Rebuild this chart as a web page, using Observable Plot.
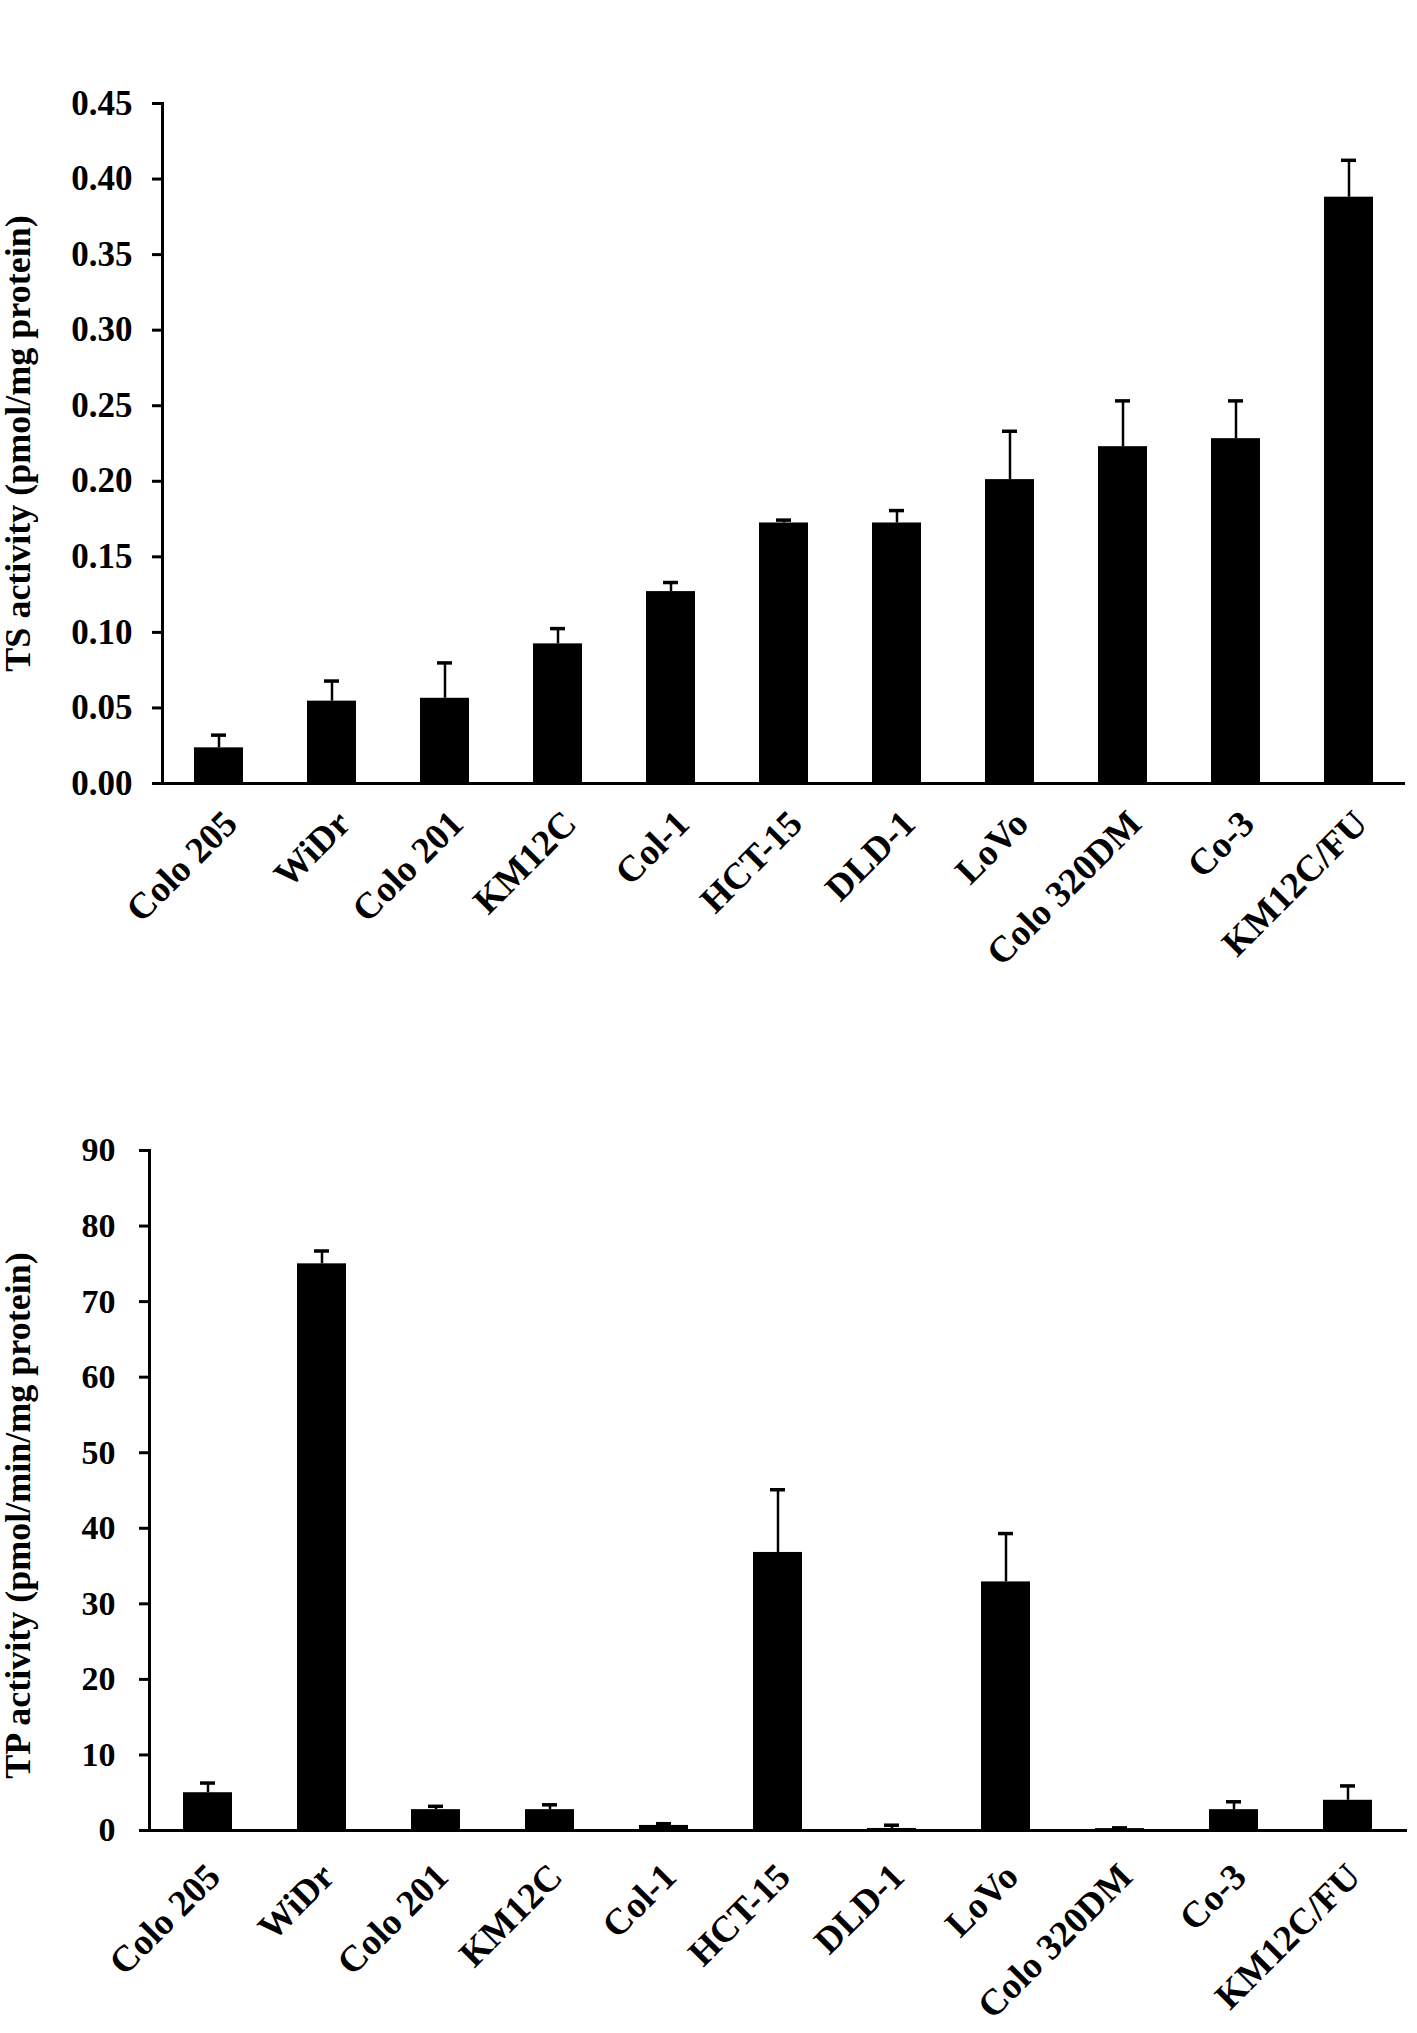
<!DOCTYPE html>
<html>
<head>
<meta charset="utf-8">
<script src="https://cdn.jsdelivr.net/npm/d3@7"></script>
<script src="https://cdn.jsdelivr.net/npm/@observablehq/plot@0.6"></script>
<style>
  html, body { margin: 0; padding: 0; background: #fff; }
  #root > svg { display: block; }
</style>
</head>
<body>
<div id="root"></div>
<script>
// Cell lines (x categories)
const cellLines = ["Colo 205", "WiDr", "Colo 201", "KM12C", "Col-1", "HCT-15", "DLD-1", "LoVo", "Colo 320DM", "Co-3", "KM12C/FU"];

// TS activity (pmol/mg protein): mean and upper error
const tsMean = [0.0236, 0.0545, 0.0564, 0.0924, 0.127, 0.1724, 0.1724, 0.2011, 0.2229, 0.2282, 0.388];
const tsErr  = [0.0084, 0.0133, 0.0234, 0.0101, 0.006, 0.0019, 0.0082, 0.032, 0.0303, 0.025, 0.0244];
const tsTicks = [0, 0.05, 0.10, 0.15, 0.20, 0.25, 0.30, 0.35, 0.40, 0.45];

// TP activity (pmol/min/mg protein): mean and upper error
const tpMean = [5.0, 75.0, 2.76, 2.76, 0.67, 36.8, 0.27, 32.9, 0.25, 2.76, 4.0];
const tpErr  = [1.28, 1.7, 0.44, 0.64, 0.23, 8.3, 0.43, 6.4, 0.1, 1.04, 1.9];
const tpTicks = [0, 10, 20, 30, 40, 50, 60, 70, 80, 90];

const FONT = "'Liberation Serif', 'Times New Roman', serif";

function panel({mean, err, ticks, yMax, fmt, label, height, mTop, mBottom, mLeft, mRight, tickPad, tickFont, labelOffset, labelDx, xPad, xDx}) {
  const data = cellLines.map((c, i) => ({cell: c, v: mean[i], hi: mean[i] + err[i]}));
  return Plot.plot({
    width: 1417,
    height,
    marginTop: mTop,
    marginBottom: mBottom,
    marginLeft: mLeft,
    marginRight: mRight,
    style: {fontFamily: FONT, fontWeight: "bold", color: "#000", background: "#fff", overflow: "visible"},
    x: {domain: cellLines, paddingInner: 0.57, paddingOuter: 0.28, axis: null},
    y: {domain: [0, yMax], axis: null},
    marks: [
      Plot.barY(data, {x: "cell", y: "v", fill: "#000"}),
      Plot.ruleX(data, {x: "cell", y1: "v", y2: "hi", stroke: "#000", strokeWidth: 2.5}),
      Plot.tickY(data, {x: "cell", y: "hi", stroke: "#000", strokeWidth: 3.5, insetLeft: 17, insetRight: 17}),
      Plot.frame({anchor: "left", stroke: "#000", strokeWidth: 3}),
      Plot.ruleY([0], {stroke: "#000", strokeWidth: 3}),
      Plot.axisY({ticks, tickFormat: fmt, tickSize: 10, tickPadding: tickPad, fontSize: tickFont, strokeWidth: 3, label: null}),
      Plot.axisY({ticks: [], label, labelAnchor: "center", labelArrow: "none", labelOffset, fontSize: 36, dx: 0, textStroke: null}),
      Plot.axisX({tickRotate: -45, tickSize: 0, tickPadding: xPad, dx: xDx, fontSize: 37, label: null})
    ]
  });
}

const root = document.getElementById("root");
root.appendChild(panel({
  mean: tsMean, err: tsErr, ticks: tsTicks, yMax: 0.45, fmt: d3.format(".2f"),
  label: "TS activity (pmol/mg protein)",
  height: 1000, mTop: 103, mBottom: 217, mLeft: 162, mRight: 12, tickPad: 20, tickFont: 35,
  labelOffset: 158, xPad: 34, xDx: 12
}));
root.appendChild(panel({
  mean: tpMean, err: tpErr, ticks: tpTicks, yMax: 90, fmt: d3.format("d"),
  label: "TP activity (pmol/min/mg protein)",
  height: 1033, mTop: 150, mBottom: 203, mLeft: 149, mRight: 10, tickPad: 24, tickFont: 34,
  labelOffset: 145, xPad: 40, xDx: 6
}));

// nudge the bottom panel's y-axis title slightly below centre, as in the reference
const svgs = root.querySelectorAll("svg");
const bottomTitle = Array.from(svgs[1].querySelectorAll("text")).find(t => t.textContent.startsWith("TP activity"));
if (bottomTitle) {
  const g = bottomTitle.closest("g");
  g.setAttribute("transform", (g.getAttribute("transform") || "") + " translate(0,25)");
}
</script>
</body>
</html>
